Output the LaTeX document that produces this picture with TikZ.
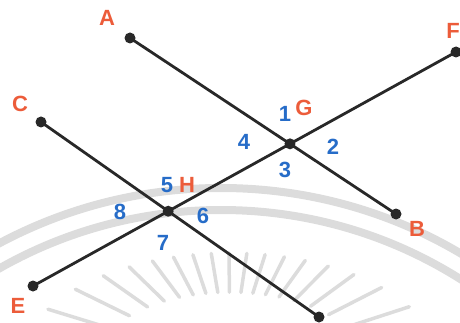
\documentclass[tikz,border=0pt]{standalone}
\usepackage{fontspec}
\setmainfont{Liberation Sans}
\definecolor{lblred}{RGB}{236,92,58}
\definecolor{lblblue}{RGB}{38,108,200}
\definecolor{wm}{RGB}{220,220,220}
\definecolor{ink}{RGB}{40,40,40}
\begin{document}
\begin{tikzpicture}[x=1pt,y=-1pt,
  seg/.style={draw=ink,line width=2.8pt},
  dot/.style={circle,fill=ink,inner sep=0pt,minimum size=11pt},
  ptlabel/.style={text=lblred,font=\bfseries\fontsize{22}{22}\selectfont,inner sep=0pt},
  anglabel/.style={text=lblblue,font=\bfseries\fontsize{22}{22}\selectfont,inner sep=0pt},
  wmarc/.style={draw=wm,line width=8pt},
  wmray/.style={draw=wm,line width=3.5pt,line cap=round}]
\useasboundingbox (0,0) rectangle (460,323);
% faint watermark in the background
\begin{scope}
  \clip (0,0) rectangle (460,323);
  \draw[wmarc] (221,659) circle[radius=471pt];
  \draw[wmarc] (221,659) circle[radius=449pt];
  \foreach \k in {0,...,16} {
    \pgfmathsetmacro\ang{18+9.06*\k}
    \pgfmathsetmacro\rr{235.2/sqrt((1.12*cos(\ang))^2+(2.1*sin(\ang))^2)}
    \draw[wmray] ({230+\rr*cos(\ang)},{365-\rr*sin(\ang)}) -- ({230+0.65*\rr*cos(\ang)},{365-0.65*\rr*sin(\ang)});
  }
\end{scope}
% points
\coordinate (A) at (130,38);
\coordinate (B) at (396,214);
\coordinate (C) at (41,122);
\coordinate (D) at (319,317);
\coordinate (E) at (33,286);
\coordinate (F) at (456,52);
\coordinate (G) at (intersection of A--B and E--F);
\coordinate (H) at (intersection of C--D and E--F);
% lines
\draw[seg] (A) -- (B);
\draw[seg] (C) -- (D);
\draw[seg] (E) -- (F);
% dots
\foreach \p in {A,B,C,D,E,F,G,H} { \node[dot] (d\p) at (\p) {}; }
% point labels
\node[ptlabel] (lA) at (107,18) {A};
\node[ptlabel] (lB) at (417,229) {B};
\node[ptlabel] (lC) at (20,104) {C};
\node[ptlabel] (lE) at (18,306) {E};
\node[ptlabel] (lF) at (453,31) {F};
\node[ptlabel] (lG) at (304,108) {G};
\node[ptlabel] (lH) at (187,185) {H};
% angle labels
\node[anglabel] (n1) at (285,114) {1};
\node[anglabel] (n2) at (333,147) {2};
\node[anglabel] (n3) at (285,170) {3};
\node[anglabel] (n4) at (244,142) {4};
\node[anglabel] (n5) at (167,185) {5};
\node[anglabel] (n6) at (203,216) {6};
\node[anglabel] (n7) at (163,243) {7};
\node[anglabel] (n8) at (120,212) {8};
\end{tikzpicture}
\end{document}
